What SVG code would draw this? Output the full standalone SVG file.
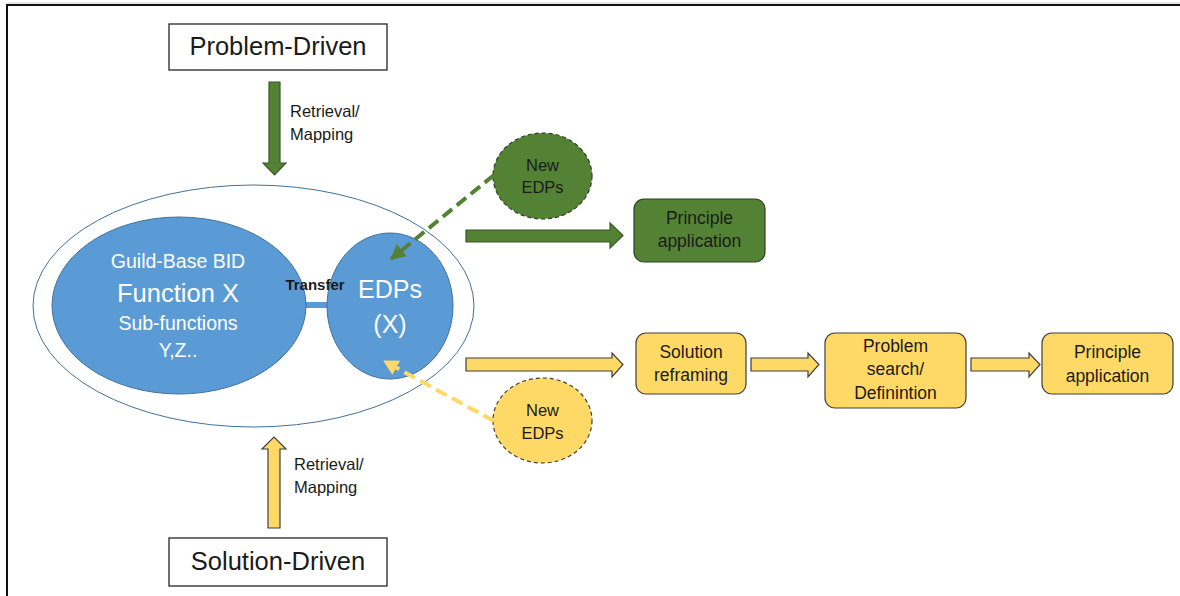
<svg xmlns="http://www.w3.org/2000/svg" width="1180" height="596" viewBox="0 0 1180 596">
  <style>
    .t { font-family: "Liberation Sans", Arial, sans-serif; text-anchor: middle; fill: #1a1a1a; }
    .w { fill: #ffffff; }
    .frame { fill: #ffffff; stroke: #262626; stroke-width: 1.3; }
    .blue { fill: #5b9bd5; stroke: #41719c; stroke-width: 1; }
    .green { fill: #548235; stroke: #2f3f24; stroke-width: 1.2; }
    .yellow { fill: #ffd966; stroke: #3f3f3f; stroke-width: 1.2; }
    .garrow { fill: #548235; stroke: #385723; stroke-width: 1.2; }
    .yarrow { fill: #ffd966; stroke: #3f3f3f; stroke-width: 1.2; }
    .dashed { stroke-dasharray: 4 3; }
  </style>
  <defs>
    <marker id="headGreen" markerUnits="userSpaceOnUse" markerWidth="18" markerHeight="18" refX="14" refY="8" orient="auto">
      <path d="M0,0 L15,8 L0,16 Z" fill="#548235"/>
    </marker>
    <marker id="headYellow" markerUnits="userSpaceOnUse" markerWidth="18" markerHeight="18" refX="14" refY="8" orient="auto">
      <path d="M0,0 L15,8 L0,16 Z" fill="#ffd966"/>
    </marker>
  </defs>

  <rect x="0" y="0" width="1180" height="596" fill="#ffffff"/>
  <!-- page edge -->
  <line x1="7" y1="3" x2="1180" y2="3" stroke="#cfcfcf" stroke-width="1"/>
  <line x1="6" y1="5" x2="1180" y2="5" stroke="#111111" stroke-width="2"/>
  <line x1="7" y1="4" x2="7" y2="596" stroke="#111111" stroke-width="2"/>

  <!-- outer scope ellipse -->
  <g id="scope">
    <ellipse cx="253.5" cy="306" rx="220.5" ry="121" fill="#ffffff" stroke="#41719c" stroke-width="1"/>
  </g>

  <!-- link bar between function ellipse and EDPs circle -->
  <rect x="300" y="302" width="34" height="6" fill="#5b9bd5"/>

  <g id="function">
    <ellipse class="blue" cx="179" cy="305.5" rx="127" ry="88.5"/>
    <text class="t w" x="178" y="268" font-size="19.5">Guild-Base BID</text>
    <text class="t w" x="178" y="302" font-size="25.5">Function X</text>
    <text class="t w" x="178" y="330" font-size="19.5">Sub-functions</text>
    <text class="t w" x="178" y="357" font-size="19.5">Y,Z..</text>
  </g>

  <g id="edps">
    <ellipse class="blue" cx="390" cy="306" rx="63" ry="73"/>
    <text class="t w" x="390" y="298" font-size="25">EDPs</text>
    <text class="t w" x="390" y="333" font-size="25">(X)</text>
  </g>

  <text class="t" x="315" y="290" font-size="15" font-weight="bold" fill="#000000">Transfer</text>

  <g id="problem-driven">
    <rect class="frame" x="169" y="24" width="218" height="46"/>
    <text class="t" x="278" y="55" font-size="25.5">Problem-Driven</text>
  </g>

  <g id="solution-driven">
    <rect class="frame" x="169" y="538" width="218" height="48"/>
    <text class="t" x="278" y="570" font-size="25.5">Solution-Driven</text>
  </g>

  <g id="new-edps-green">
    <ellipse class="green dashed" cx="542.5" cy="176" rx="49.5" ry="43"/>
    <text class="t" x="542.5" y="171" font-size="16.5">New</text>
    <text class="t" x="542.5" y="193" font-size="16.5">EDPs</text>
  </g>

  <g id="new-edps-yellow">
    <ellipse class="yellow dashed" cx="542.5" cy="420.5" rx="49.5" ry="42.5"/>
    <text class="t" x="542.5" y="416" font-size="16.5">New</text>
    <text class="t" x="542.5" y="439" font-size="16.5">EDPs</text>
  </g>

  <g id="principle-green">
    <rect class="green" x="634" y="199" width="131" height="63" rx="10"/>
    <text class="t" x="699.5" y="224" font-size="17.5">Principle</text>
    <text class="t" x="699.5" y="247" font-size="17.5">application</text>
  </g>

  <g id="solution-reframing">
    <rect class="yellow" x="636" y="333" width="110" height="61" rx="10"/>
    <text class="t" x="691" y="358" font-size="17.5">Solution</text>
    <text class="t" x="691" y="381" font-size="17.5">reframing</text>
  </g>

  <g id="problem-search">
    <rect class="yellow" x="825" y="333" width="141" height="75" rx="10"/>
    <text class="t" x="895.5" y="352" font-size="17.5">Problem</text>
    <text class="t" x="895.5" y="375" font-size="17.5">search/</text>
    <text class="t" x="895.5" y="399" font-size="17.5">Definintion</text>
  </g>

  <g id="principle-yellow">
    <rect class="yellow" x="1042" y="333" width="131" height="61" rx="10"/>
    <text class="t" x="1107.5" y="358" font-size="17.5">Principle</text>
    <text class="t" x="1107.5" y="382" font-size="17.5">application</text>
  </g>

  <g id="connectors">
    <!-- retrieval / mapping arrows -->
    <polygon class="garrow" points="269,82 280,82 280,163 286,163 274.5,175 263,163 269,163"/>
    <text class="t" x="290" y="117" font-size="16.5" style="text-anchor:start">Retrieval/</text>
    <text class="t" x="290" y="140" font-size="16.5" style="text-anchor:start">Mapping</text>

    <polygon class="yarrow" points="268,528 280,528 280,449 286,449 274,437 262,449 268,449"/>
    <text class="t" x="294" y="470" font-size="16.5" style="text-anchor:start">Retrieval/</text>
    <text class="t" x="294" y="493" font-size="16.5" style="text-anchor:start">Mapping</text>

    <!-- new EDPs feeding back into the EDPs circle -->
    <line x1="494" y1="175" x2="391" y2="259" stroke="#548235" stroke-width="4" stroke-dasharray="12 6" marker-end="url(#headGreen)"/>
    <line x1="494" y1="421" x2="384" y2="361" stroke="#ffd966" stroke-width="4" stroke-dasharray="12 6" marker-end="url(#headYellow)"/>

    <!-- process flow arrows -->
    <polygon class="garrow" points="466,230 610,230 610,223 623,235.5 610,248 610,242 466,242"/>
    <polygon class="yarrow" points="466,358 612,358 612,353 623,364.5 612,377 612,371 466,371"/>
    <polygon class="yarrow" points="751,358 808,358 808,353 819,364.5 808,377 808,371 751,371"/>
    <polygon class="yarrow" points="971,358 1029,358 1029,353 1040,364.5 1029,377 1029,371 971,371"/>
  </g>
</svg>
